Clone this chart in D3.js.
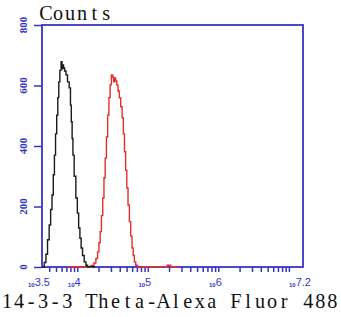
<!DOCTYPE html>
<html lang="en">
<head>
	<meta charset="UTF-8">
	<title>14-3-3 Theta histogram</title>
	<style>
		body { margin: 0; background: #fff; }
	</style>
</head>
<body>

	<script src="https://cdn.jsdelivr.net/npm/d3@7"></script>

	<script type="text/javascript">

		var width = 341,
			height = 317;

		var margin = { top: 25, right: 38, bottom: 50, left: 42 };

		var axisColor = "#3535c4";

		// x values as log10 exponents, y values as counts
		var isotypeExp = [ 3.50, 3.518, 3.545, 3.567, 3.59, 3.613, 3.632, 3.652, 3.668, 3.684, 3.70, 3.717,
							3.731, 3.745, 3.762, 3.779, 3.788, 3.798, 3.812, 3.83, 3.85, 3.873, 3.897,
							3.91, 3.921, 3.933, 3.944, 3.968, 3.992, 4.01, 4.029, 4.046, 4.063, 4.086,
							4.11, 4.135, 4.157, 4.20, 4.25 ];
		var isotypeCounts = [ 0, 0, 15, 42, 90, 139, 190, 238, 305, 370, 440, 502,
							560, 612, 650, 679, 655, 668, 658, 648, 635, 612, 592,
							535, 480, 425, 370, 300, 228, 178, 129, 95, 63, 38,
							17, 6, 1, 2, 0 ];

		var sampleExp = [ 3.87, 4.0, 4.10, 4.181, 4.22, 4.252, 4.276, 4.299, 4.316, 4.333, 4.352, 4.370,
							4.387, 4.404, 4.422, 4.440, 4.457, 4.474, 4.493, 4.507, 4.521, 4.535,
							4.552, 4.568, 4.587, 4.606, 4.626, 4.645, 4.661, 4.677, 4.694, 4.710,
							4.729, 4.748, 4.767, 4.786, 4.80, 4.819, 4.84, 4.866, 5.0, 5.25, 5.30, 5.35, 5.45 ];
		var sampleCounts = [ 0, 1, 0, 0, 5, 13, 28, 50, 80, 117, 170, 228,
							295, 360, 430, 502, 560, 602, 635, 628, 612, 625,
							615, 602, 582, 559, 530, 493, 440, 381, 320, 261,
							205, 150, 102, 63, 38, 17, 6, 0, 1, 0, 6, 0, 0 ];

		var yTicks = [ 0, 200, 400, 600, 800 ];
		var xTickExps = [ "3.5", "4", "5", "6", "7.2" ];

		var svg = d3.select( "body" )
					.append( "svg" )
					.attr( "width", width )
					.attr( "height", height );

		var x = d3.scaleLog()
					.domain( [ Math.pow( 10, 3.5 ), Math.pow( 10, 7.2 ) ] )
					.range( [ margin.left, width - margin.right ] );

		var y = d3.scaleLinear()
					.domain( [ 0, 800 ] )
					.range( [ height - margin.bottom, margin.top ] );

		// minor ticks at 1..9 times each decade
		var minorTicks = [];
		for ( var e = 3; e <= 7; e++ ) {
			for ( var k = 1; k < 10; k++ ) {
				var v = k * Math.pow( 10, e );
				if ( v > x.domain()[0] && v <= x.domain()[1] ) minorTicks.push( v );
			}
		}

		var xAxis = d3.axisBottom( x )
					.tickValues( minorTicks )
					.tickSize( 5 )
					.tickFormat( "" );

		var yAxis = d3.axisLeft( y )
					.tickValues( yTicks )
					.tickSize( 8 )
					.tickFormat( "" );

		var gx = svg.append( "g" )
					.attr( "transform", "translate(0," + ( height - margin.bottom ) + ")" )
					.call( xAxis );

		var gy = svg.append( "g" )
					.attr( "transform", "translate(" + margin.left + ",0)" )
					.call( yAxis );

		[ gx, gy ].forEach( function( g ) {
			g.select( ".domain" ).remove();
			g.selectAll( "line" )
				.attr( "stroke", axisColor )
				.attr( "stroke-width", 1.5 );
		});

		// frame
		svg.append( "rect" )
			.attr( "x", margin.left )
			.attr( "y", margin.top )
			.attr( "width", width - margin.right - margin.left )
			.attr( "height", height - margin.bottom - margin.top )
			.attr( "fill", "none" )
			.attr( "stroke", axisColor )
			.attr( "stroke-width", 1.8 );

		// y labels, rotated
		svg.selectAll( "text.ylab" )
			.data( yTicks )
			.enter()
			.append( "text" )
			.attr( "class", "ylab" )
			.attr( "transform", function( d ) {
				return "translate(27," + y( d ) + ") rotate(-90)";
			})
			.attr( "text-anchor", "middle" )
			.attr( "font-family", "Liberation Serif, serif" )
			.attr( "font-size", 11 )
			.attr( "font-weight", "bold" )
			.attr( "fill", axisColor )
			.text( function( d ) { return d; } );

		// x labels: small "10" with the exponent next to it
		var xlab = svg.selectAll( "text.xlab" )
			.data( xTickExps )
			.enter()
			.append( "text" )
			.attr( "class", "xlab" )
			.attr( "x", function( d ) { return x( Math.pow( 10, +d ) ) - 3; } )
			.attr( "y", 287 )
			.attr( "text-anchor", "middle" )
			.attr( "font-family", "Liberation Sans, Arial, sans-serif" )
			.attr( "fill", axisColor );

		xlab.append( "tspan" )
			.attr( "font-size", 6 )
			.attr( "font-weight", "bold" )
			.text( "10" );

		xlab.append( "tspan" )
			.attr( "font-size", 11 )
			.attr( "dy", -1 )
			.text( function( d ) { return d; } );

		var line = d3.line()
					.x( function( d ) { return x( Math.pow( 10, d[0] ) ); } )
					.y( function( d ) { return y( d[1] ); } )
					.curve( d3.curveStep );

		svg.append( "path" )
			.datum( d3.zip( sampleExp, sampleCounts ) )
			.attr( "d", line )
			.attr( "fill", "none" )
			.attr( "stroke", "#e0302c" )
			.attr( "stroke-width", 1.4 );

		svg.append( "path" )
			.datum( d3.zip( isotypeExp, isotypeCounts ) )
			.attr( "d", line )
			.attr( "fill", "none" )
			.attr( "stroke", "#1a1a1a" )
			.attr( "stroke-width", 1.4 );

		// serif glyphs on a fixed 12px grid, like the original monospace font
		function gridText( str, x0, yBase ) {
			var sx = 0.92,
				pitch = 12.05;
			var xs = str.split( "" ).map( function( c, i ) {
				return ( ( x0 + i * pitch + pitch / 2 ) / sx ).toFixed( 2 );
			});
			svg.append( "text" )
				.attr( "transform", "scale(" + sx + ",1)" )
				.attr( "x", xs.join( " " ) )
				.attr( "y", yBase )
				.attr( "text-anchor", "middle" )
				.attr( "font-family", "Liberation Serif, Times New Roman, serif" )
				.attr( "font-size", 22 )
				.attr( "fill", "#111" )
				.text( str );
		}

		gridText( "Counts", 40, 20 );
		gridText( "14-3-3 Theta-Alexa Fluor 488", 1, 308 );

	</script>
</body>
</html>
